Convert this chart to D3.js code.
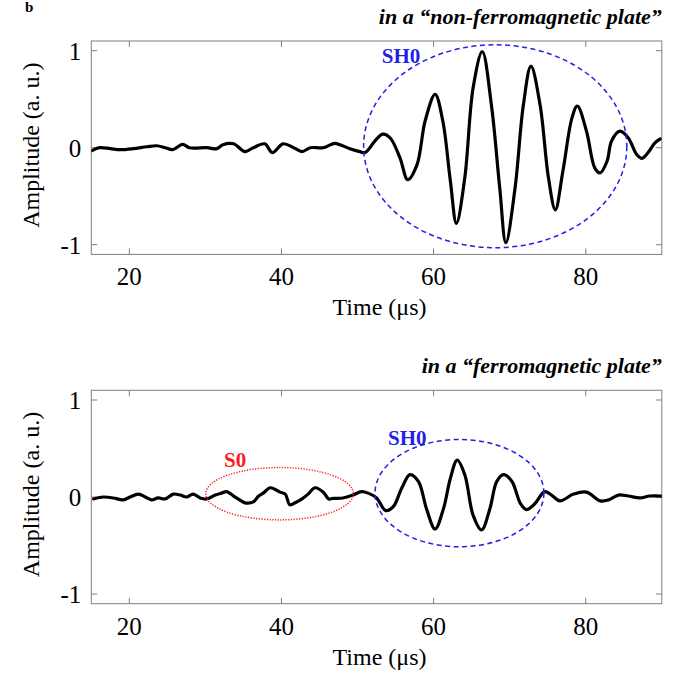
<!DOCTYPE html>
<html>
<head>
<meta charset="utf-8">
<script src="https://cdn.jsdelivr.net/npm/d3@7"></script>
<style>
  body { margin: 0; background: #fff; }
  svg { display: block; font-family: "Liberation Serif", "Times New Roman", serif; }
  .frame { fill: none; stroke: #808080; stroke-width: 1; }
  .tick { stroke: #808080; stroke-width: 1; }
  .ticklabel { font-size: 25px; fill: #000; }
  .label { font-size: 24px; fill: #000; }
  .title { font-size: 22px; font-weight: bold; font-style: italic; fill: #000; }
  .signal { fill: none; stroke: #000; stroke-width: 3.2; stroke-linejoin: round; stroke-linecap: round; }
</style>
</head>
<body>
<div id="chart"></div>
<script>
var timeTicks = [20, 40, 60, 80];
var ampTicks = [-1, 0, 1];
var xLabel = 'Time (μs)';
var yLabel = 'Amplitude (a. u.)';
var titles = ['in a “non-ferromagnetic plate”', 'in a “ferromagnetic plate”'];

// [time (us), amplitude]
var nonFerroSignal = [[15.1,-0.03],[16.1,0],[17.5,-0.01],[18.8,-0.02],[20.5,-0.01],[22.3,0.01],[23.6,0.02],[24.7,0],
  [25.7,-0.02],[27.0,0.035],[27.9,0],[30.2,0],[31.5,-0.01],[32.3,0.03],[33.7,0.04],[35.2,-0.04],[36.3,0],[37.8,0.04],
  [38.8,-0.05],[40.2,0.04],[41.6,0],[42.7,-0.04],[43.8,0],[45.5,0],[47.0,0.045],[47.7,0.03],[49.0,-0.01],[50.3,-0.04],
  [51.0,-0.05],[52.3,0.07],[53.3,0.14],[54.3,0.10],[55.6,-0.11],[56.6,-0.33],[57.8,-0.18],[58.9,0.28],[60.2,0.55],
  [61.2,0.28],[62.2,-0.34],[63.0,-0.78],[64.1,-0.31],[65.2,0.62],[66.4,0.99],[67.6,0.44],[68.7,-0.42],[69.5,-0.98],
  [70.7,-0.42],[71.8,0.44],[72.8,0.84],[74.0,0.44],[75.1,-0.31],[76.0,-0.64],[77.0,-0.24],[78.2,0.31],[78.9,0.43],
  [80.1,0.17],[81.2,-0.21],[81.9,-0.26],[82.8,-0.14],[83.4,0.07],[84.5,0.17],[85.6,0.10],[86.7,-0.07],[87.4,-0.11],
  [88.2,-0.05],[89.1,0.05],[89.8,0.09]];

var ferroSignal = [[15.3,-0.02],[16.6,0],[17.9,-0.01],[19.2,-0.03],[20.1,0],[21.2,0.03],[22.1,0],[22.9,-0.03],
  [23.8,-0.01],[24.7,-0.02],[25.8,0.03],[26.7,0.02],[27.5,0],[28.4,0.03],[29.3,-0.01],[30.2,-0.02],[31.3,0.02],
  [32.1,0.04],[32.8,0.055],[33.7,0.01],[34.5,-0.03],[35.2,-0.06],[36.3,-0.05],[37.0,0.01],[37.6,0.04],[38.5,0.095],
  [39.1,0.08],[39.8,0.05],[40.5,0.03],[41.1,-0.08],[41.8,-0.06],[42.7,-0.02],[43.5,0.03],[44.4,0.095],[45.5,0.05],
  [46.2,-0.02],[46.8,-0.015],[48.1,-0.01],[49.4,0.02],[50.5,0.055],[51.4,0.04],[52.5,-0.01],[53.7,-0.14],[54.7,-0.10],
  [55.8,0.09],[56.9,0.23],[58.0,0.16],[59.1,-0.13],[60.2,-0.33],[61.3,-0.12],[62.2,0.19],[63.1,0.38],[64.1,0.23],
  [65.2,-0.19],[66.3,-0.34],[67.4,-0.12],[68.3,0.16],[69.2,0.23],[70.3,0.16],[71.4,-0.065],[72.2,-0.13],[73.3,-0.07],
  [74.6,0.055],[75.5,0.02],[76.6,-0.04],[78.4,0.03],[80.1,0.05],[81.9,-0.04],[83.0,-0.03],[84.3,0.02],[85.6,0.01],
  [87.1,-0.01],[88.4,0.01],[90.0,0.01]];

// mode regions: centre time, centre amp, half width (us), half height (amp)
var nonFerroModes = [{name:'SH0', t:68.1, a:0.015, rt:17.3, ra:1.046, lt:53.2, la:0.873, color:'#1f1fe6', dash:'5,3.5'}];
var ferroModes = [
  {name:'S0', t:39.75, a:0.034, rt:9.7, ra:0.27, lt:32.45, la:0.31, color:'#ff1a1a', dash:'1.2,1.5'},
  {name:'SH0', t:63.4, a:0.04, rt:11.1, ra:0.553, lt:54.0, la:0.536, color:'#1f1fe6', dash:'5,3.5'}
];

var W = 676, H = 673;
var left = 91.3, right = 661.8;

var svg = d3.select('#chart').append('svg')
  .attr('width', W).attr('height', H);

// panel letter (cut off in the source figure)
svg.append('text')
  .attr('x', 25).attr('y', 12)
  .style('font-size', '15px').style('font-weight', 'bold')
  .text('b');

var xScale = d3.scaleLinear().domain([15, 90]).range([left, right]);

function drawPanel(top, bottom, data, modes, title, idx) {
  var yScale = d3.scaleLinear().domain([-1.1, 1.1]).range([bottom, top]);
  var g = svg.append('g');

  g.append('defs').append('clipPath').attr('id', 'clip' + idx)
    .append('rect').attr('x', left).attr('y', top)
    .attr('width', right - left).attr('height', bottom - top);

  // ticks pointing inwards on all four sides
  var tl = 6;
  timeTicks.forEach(function(t) {
    g.append('line').attr('class', 'tick')
      .attr('x1', xScale(t)).attr('x2', xScale(t)).attr('y1', bottom).attr('y2', bottom - tl);
    g.append('line').attr('class', 'tick')
      .attr('x1', xScale(t)).attr('x2', xScale(t)).attr('y1', top).attr('y2', top + tl);
    g.append('text').attr('class', 'ticklabel')
      .attr('x', xScale(t)).attr('y', bottom + 31)
      .attr('text-anchor', 'middle').text(t);
  });
  ampTicks.forEach(function(a) {
    g.append('line').attr('class', 'tick')
      .attr('x1', left).attr('x2', left + tl).attr('y1', yScale(a)).attr('y2', yScale(a));
    g.append('line').attr('class', 'tick')
      .attr('x1', right).attr('x2', right - tl).attr('y1', yScale(a)).attr('y2', yScale(a));
    g.append('text').attr('class', 'ticklabel')
      .attr('x', left - 10).attr('y', yScale(a) + 9)
      .attr('text-anchor', 'end').text(a);
  });

  g.append('rect').attr('class', 'frame')
    .attr('x', left).attr('y', top)
    .attr('width', right - left).attr('height', bottom - top);

  var line = d3.line()
    .x(function(d) { return xScale(d[0]); })
    .y(function(d) { return yScale(d[1]); })
    .curve(d3.curveCatmullRom.alpha(0.5));

  g.append('path').attr('class', 'signal')
    .attr('clip-path', 'url(#clip' + idx + ')')
    .attr('d', line(data));

  modes.forEach(function(m) {
    g.append('ellipse')
      .attr('cx', xScale(m.t)).attr('cy', yScale(m.a))
      .attr('rx', xScale(m.t + m.rt) - xScale(m.t))
      .attr('ry', yScale(0) - yScale(m.ra))
      .attr('fill', 'none').attr('stroke', m.color)
      .attr('stroke-width', 1.5).attr('stroke-dasharray', m.dash);
    g.append('text')
      .attr('x', xScale(m.lt)).attr('y', yScale(m.la))
      .style('font-size', '21px').style('font-weight', 'bold')
      .attr('fill', m.color).text(m.name);
  });

  g.append('text').attr('class', 'title')
    .attr('x', right).attr('y', top - 17)
    .attr('text-anchor', 'end').text(title);

  g.append('text').attr('class', 'label')
    .attr('x', (left + right) / 2 + 3).attr('y', bottom + 61)
    .attr('text-anchor', 'middle').text(xLabel);

  var cy = yScale(0) - 2.5;
  g.append('text').attr('class', 'label')
    .attr('transform', 'translate(39,' + cy + ') rotate(-90)')
    .attr('text-anchor', 'middle').text(yLabel);
}

drawPanel(41, 254.4, nonFerroSignal, nonFerroModes, titles[0], 0);
drawPanel(390.3, 603.7, ferroSignal, ferroModes, titles[1], 1);
</script>
</body>
</html>
